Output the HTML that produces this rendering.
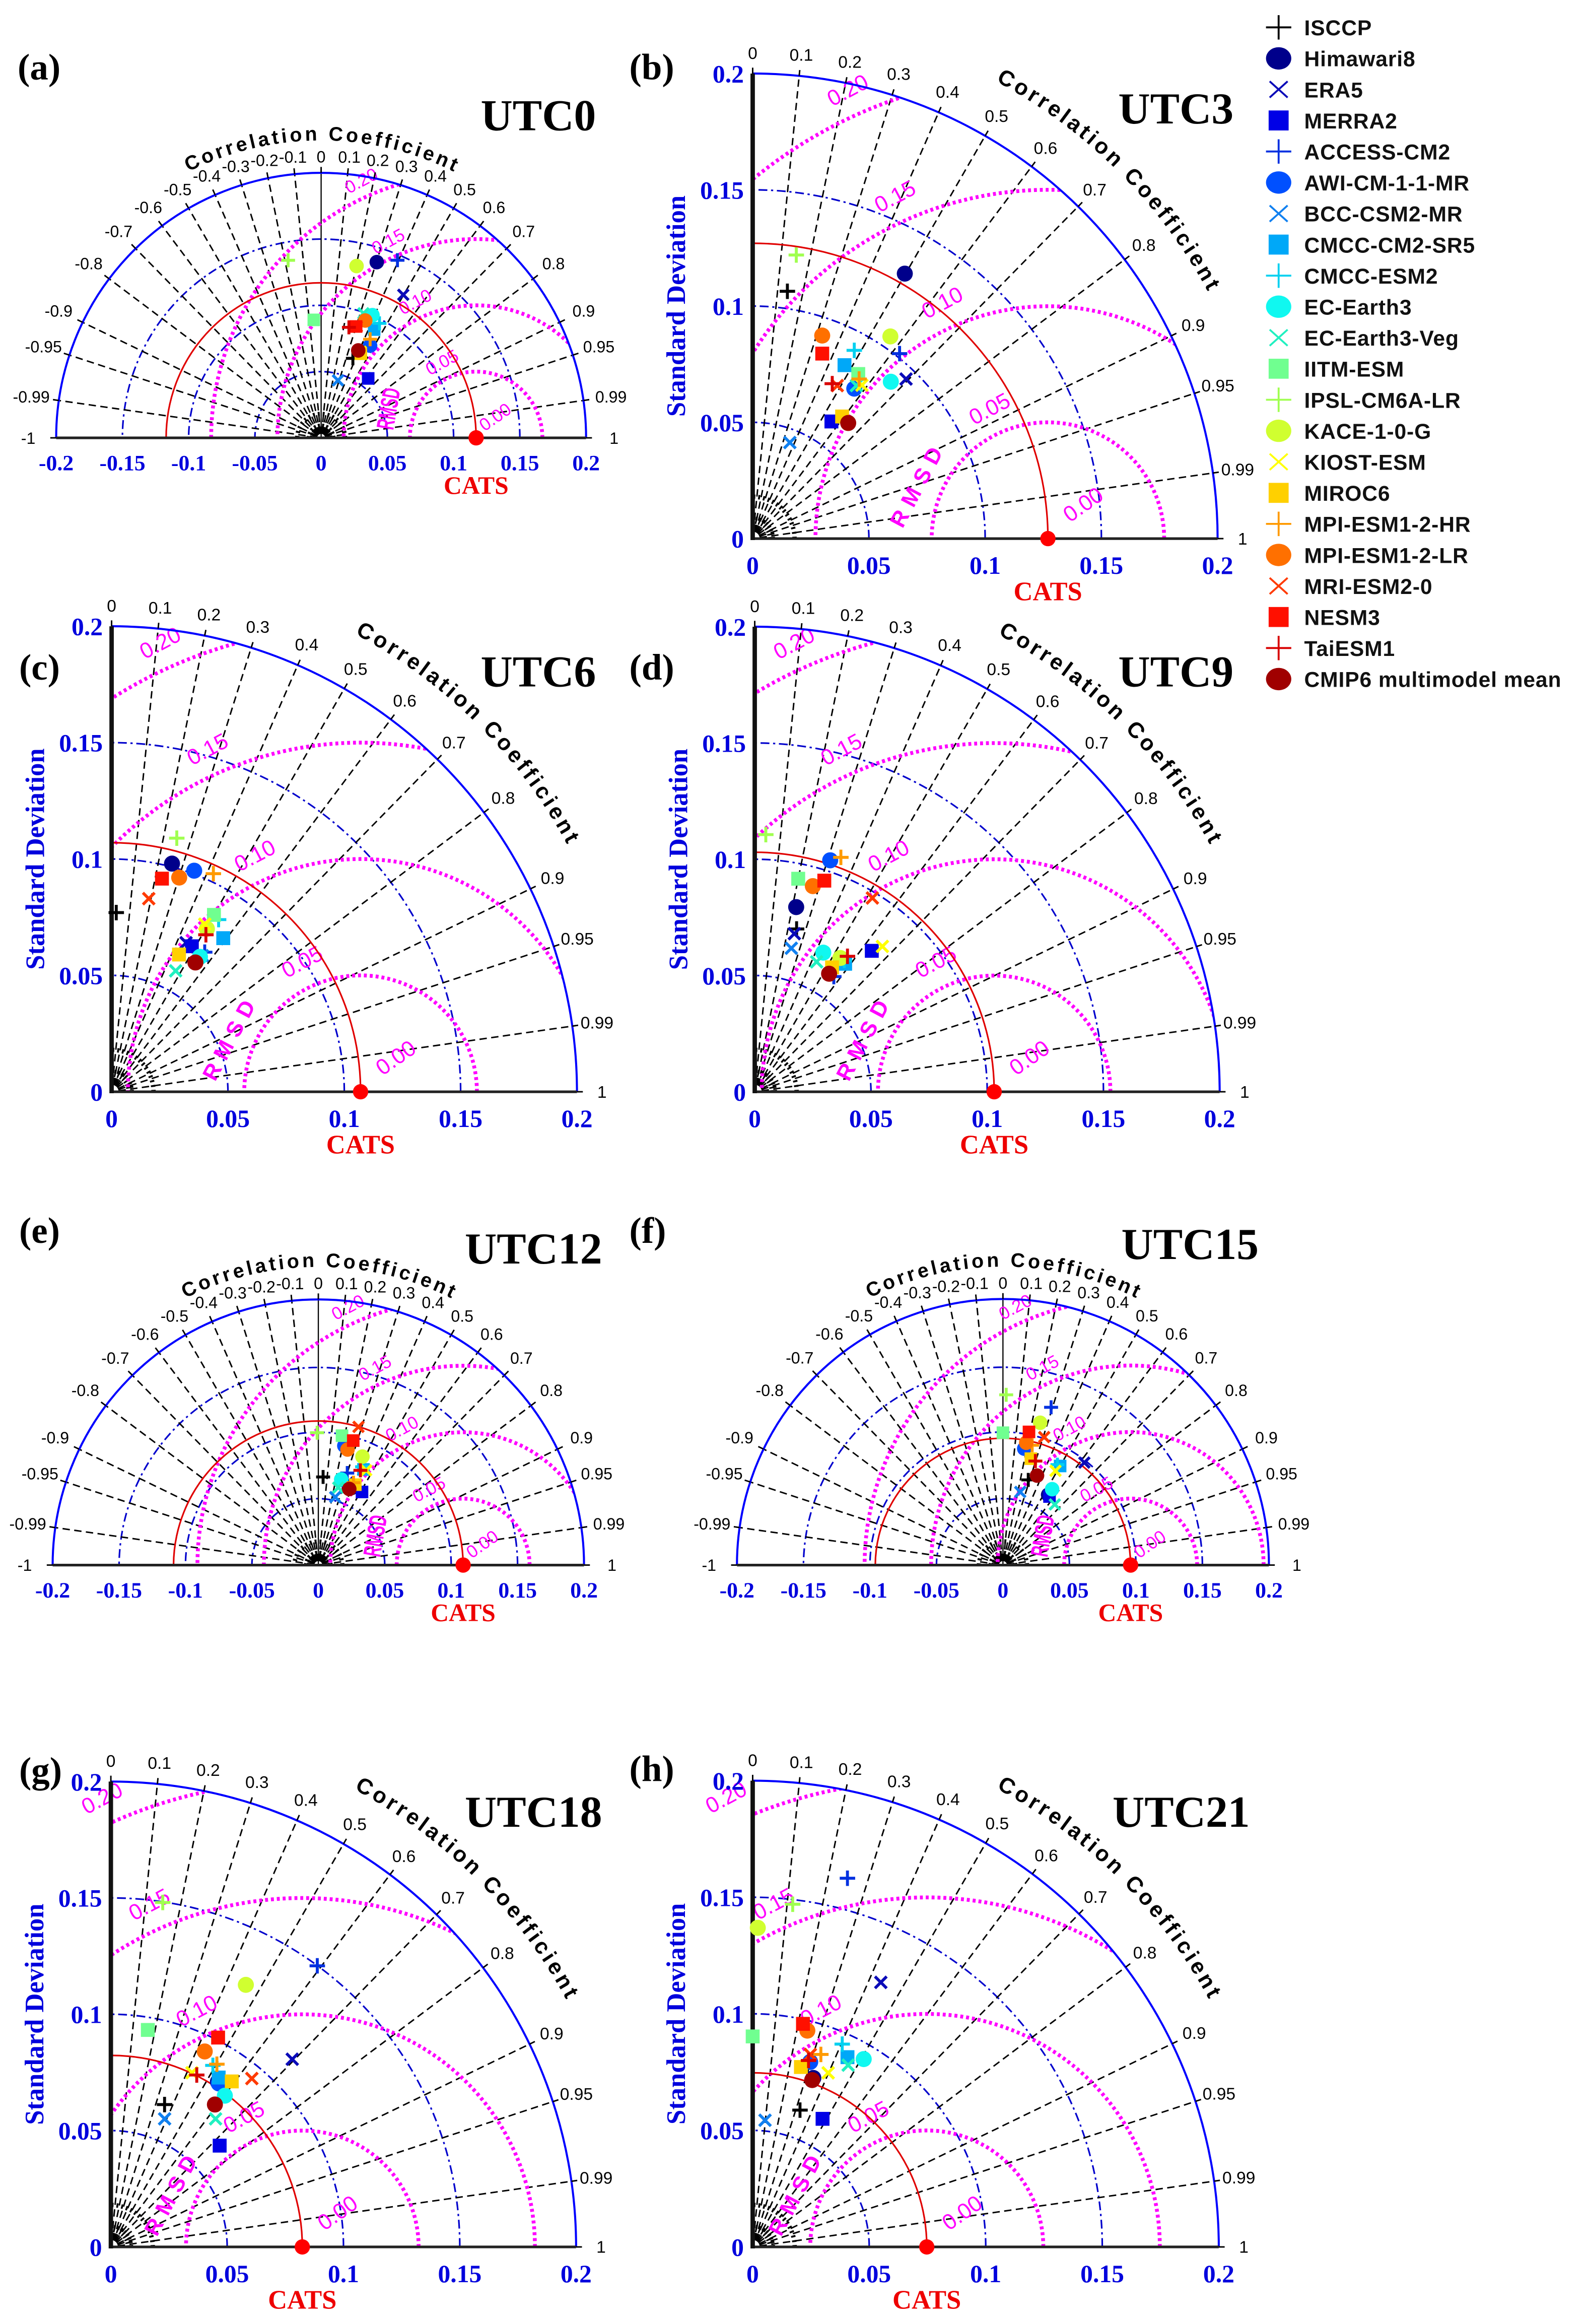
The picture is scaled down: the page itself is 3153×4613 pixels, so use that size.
<!DOCTYPE html>
<html>
<head>
<meta charset="utf-8">
<style>
  html,body{margin:0;padding:0;background:#fff;width:3153px;height:4613px;overflow:hidden;}
  svg{display:block;}
  .serif{font-family:"Liberation Serif",serif;font-weight:bold;}
  .sans{font-family:"Liberation Sans",sans-serif;}
</style>
</head>
<body>
<svg id="fig" xmlns="http://www.w3.org/2000/svg" width="3153" height="4613" viewBox="0 0 1080 1580.1" preserveAspectRatio="none">
  <rect x="0" y="0" width="1080" height="1580.1" fill="#ffffff"/>
</svg>
<script>
// ---------------- DATA ----------------
const modelNames = ['ISCCP','Himawari8','ERA5','MERRA2','ACCESS-CM2','AWI-CM-1-1-MR','BCC-CSM2-MR','CMCC-CM2-SR5','CMCC-ESM2','EC-Earth3','EC-Earth3-Veg','IITM-ESM','IPSL-CM6A-LR','KACE-1-0-G','KIOST-ESM','MIROC6','MPI-ESM1-2-HR','MPI-ESM1-2-LR','MRI-ESM2-0','NESM3','TaiESM1','CMIP6 multimodel mean'];
const modelShapes = ['plus','circle','x','square','plus','circle','x','square','plus','circle','x','square','plus','circle','x','square','plus','circle','x','square','plus','circle'];
const modelColors = ['#000000','#00008b','#0a0ab8','#0000e6','#0030e0','#0050ff','#1080f0','#00a8f8','#00d0f0','#10f8f0','#20f0c0','#70ff90','#a0ff50','#d0ff30','#ffff00','#ffd000','#ff9a00','#ff7000','#ff3a00','#ff1000','#d80000','#a00000'];

const panelTitles = ['UTC0','UTC3','UTC6','UTC9','UTC12','UTC15','UTC18','UTC21'];
const catsStd = [0.117, 0.127, 0.107, 0.103, 0.109, 0.096, 0.0823, 0.0747];

const stdA  = [0.0646,0.1391,0.1245,0.0572,0.1459,0.0788,0.0452,0.0910,0.0970,0.1004,0.0993,0.0892,0.1363,0.1324,0.0716,0.0702,0.0831,0.0946,0.0882,0.0881,0.0860,0.0717];
const corrA = [0.371,0.302,0.498,0.621,0.395,0.469,0.281,0.440,0.454,0.386,0.322,-0.062,-0.183,0.202,0.419,0.427,0.445,0.352,0.306,0.300,0.244,0.391];

const stdB  = [0.1074,0.1314,0.0952,0.0607,0.1016,0.0779,0.0443,0.0844,0.0920,0.0899,0.0795,0.0841,0.1234,0.1052,0.0810,0.0651,0.0825,0.0923,0.0752,0.0850,0.0749,0.0645];
const corrB = [0.139,0.498,0.693,0.558,0.622,0.561,0.361,0.468,0.475,0.661,0.561,0.540,0.152,0.563,0.580,0.591,0.555,0.324,0.484,0.352,0.457,0.637];

const stdC  = [0.0770,0.1014,0.0716,0.0714,0.0721,0.1014,0.0703,0.0816,0.0871,0.0693,0.0588,0.0878,0.1125,0.0811,0.0824,0.0657,0.1034,0.0965,0.0845,0.0941,0.0787,0.0662];
const corrC = [0.026,0.256,0.447,0.483,0.555,0.350,0.555,0.588,0.528,0.548,0.468,0.501,0.249,0.505,0.486,0.441,0.423,0.301,0.189,0.230,0.515,0.544];

const stdD  = [0.0723,0.0814,0.0701,0.0788,0.0601,0.1047,0.0637,0.0674,0.0684,0.0667,0.0619,0.0935,0.1107,0.0683,0.0832,0.0630,0.1074,0.0919,0.0975,0.0956,0.0706,0.0600];
const corrD = [0.249,0.219,0.243,0.639,0.566,0.310,0.247,0.577,0.563,0.442,0.430,0.200,0.043,0.539,0.660,0.528,0.345,0.272,0.519,0.313,0.565,0.533];

const stdE  = [0.0664,0.0632,0.0658,0.0641,0.0726,0.0919,0.0527,0.0796,0.0810,0.0667,0.0602,0.0990,0.0996,0.0881,0.0799,0.0666,0.0674,0.0897,0.1083,0.0973,0.0780,0.0618];
const corrE = [0.054,0.396,0.334,0.513,0.300,0.213,0.241,0.427,0.407,0.258,0.249,0.180,-0.009,0.377,0.451,0.418,0.393,0.245,0.279,0.270,0.406,0.377];

const stdF  = [0.0668,0.0628,0.0984,0.0623,0.1240,0.0890,0.0565,0.0860,0.0859,0.0680,0.0600,0.0995,0.1280,0.1106,0.0811,0.0827,0.0927,0.0936,0.1011,0.1020,0.0819,0.0720];
const corrF = [0.285,0.541,0.622,0.562,0.292,0.180,0.230,0.500,0.477,0.544,0.650,0.000,0.019,0.253,0.487,0.254,0.237,0.187,0.307,0.192,0.298,0.356];

const stdG  = [0.0654,0.0846,0.1122,0.0639,0.1499,0.0842,0.0597,0.0863,0.0895,0.0814,0.0711,0.0946,0.1497,0.1267,0.0826,0.0881,0.0908,0.0932,0.0944,0.1011,0.0826,0.0758];
const corrG = [0.353,0.544,0.695,0.732,0.592,0.551,0.387,0.537,0.490,0.602,0.633,0.168,0.149,0.458,0.422,0.590,0.502,0.433,0.642,0.456,0.447,0.590];

const stdH  = [0.0621,0.0770,0.1261,0.0626,0.1633,0.0831,0.0546,0.0910,0.0951,0.0936,0.0881,0.0903,0.1480,0.1369,0.0814,0.0799,0.0876,0.0957,0.0862,0.0981,0.0835,0.0760];
const corrH = [0.327,0.338,0.436,0.479,0.249,0.297,0.097,0.447,0.404,0.509,0.465,0.000,0.116,0.016,0.398,0.259,0.334,0.245,0.287,0.220,0.287,0.336];

const panelStd  = [stdA, stdB, stdC, stdD, stdE, stdF, stdG, stdH];
const panelCorr = [corrA, corrB, corrC, corrD, corrE, corrF, corrG, corrH];

const stdTicks = [0, 0.05, 0.1, 0.15, 0.2];
const stdTickLabels = ['0','0.05','0.1','0.15','0.2'];
const halfTicks = [-0.2,-0.15,-0.1,-0.05,0,0.05,0.1,0.15,0.2];
const halfTickLabels = ['-0.2','-0.15','-0.1','-0.05','0','0.05','0.1','0.15','0.2'];
const corrLinesQuarter = [0.1,0.2,0.3,0.4,0.5,0.6,0.7,0.8,0.9,0.95,0.99];
const corrLabelsQuarter = ['0','0.1','0.2','0.3','0.4','0.5','0.6','0.7','0.8','0.9','0.95','0.99','1'];
const corrLabelValsQuarter = [0,0.1,0.2,0.3,0.4,0.5,0.6,0.7,0.8,0.9,0.95,0.99,1];
const corrLinesHalf = [-0.99,-0.95,-0.9,-0.8,-0.7,-0.6,-0.5,-0.4,-0.3,-0.2,-0.1,0.1,0.2,0.3,0.4,0.5,0.6,0.7,0.8,0.9,0.95,0.99];
const corrLabelValsHalf = [-1,-0.99,-0.95,-0.9,-0.8,-0.7,-0.6,-0.5,-0.4,-0.3,-0.2,-0.1,0,0.1,0.2,0.3,0.4,0.5,0.6,0.7,0.8,0.9,0.95,0.99,1];
const corrLabelsHalf = ['-1','-0.99','-0.95','-0.9','-0.8','-0.7','-0.6','-0.5','-0.4','-0.3','-0.2','-0.1','0','0.1','0.2','0.3','0.4','0.5','0.6','0.7','0.8','0.9','0.95','0.99','1'];
const stdRings = [0.05, 0.10, 0.15];
const rmsdRadii = [0.05, 0.10, 0.15, 0.20];
const rmsdLabels = ['0.05','0.10','0.15','0.20'];

// ---------------- LAYOUT ----------------
const layout = [
  {kind:'half',   ox:218.4, oy:297.7,  R:180.2, lx:12,  ly:54,   tx:405.3, ty:88.5, letter:'(a)'},
  {kind:'quarter',ox:511.9, oy:366.2,  R:316.2, lx:428, ly:54,   tx:838.9, ty:84,   letter:'(b)'},
  {kind:'quarter',ox:75.9,  oy:742.3,  R:316.5, lx:13,  ly:462,  tx:405.3, ty:466.7,letter:'(c)'},
  {kind:'quarter',ox:513.3, oy:742.3,  R:316.2, lx:428, ly:462,  tx:838.9, ty:466.7,letter:'(d)'},
  {kind:'half',   ox:216.5, oy:1064.1, R:180.7, lx:13,  ly:845,  tx:409.5, ty:859,  letter:'(e)'},
  {kind:'half',   ox:682.1, oy:1064.1, R:180.9, lx:428, ly:845,  tx:856,   ty:856,  letter:'(f)'},
  {kind:'quarter',ox:75.4,  oy:1527.7, R:316.4, lx:13,  ly:1212, tx:409.5, ty:1242, letter:'(g)'},
  {kind:'quarter',ox:511.9, oy:1527.7, R:317.0, lx:428, ly:1211, tx:850,   ty:1242, letter:'(h)'}
];

const NS = 'http://www.w3.org/2000/svg';
const svg = document.getElementById('fig');
function mk(tag, attrs, parent){
  const e = document.createElementNS(NS, tag);
  for (const k in attrs) e.setAttribute(k, attrs[k]);
  parent.appendChild(e);
  return e;
}
function arcPath(cx, cy, r, a0, a1){
  const r0 = a0*Math.PI/180, r1 = a1*Math.PI/180;
  const x0 = cx + r*Math.cos(r0), y0 = cy - r*Math.sin(r0);
  const x1 = cx + r*Math.cos(r1), y1 = cy - r*Math.sin(r1);
  const large = Math.abs(a1-a0) > 180 ? 1 : 0;
  const sweep = a1 > a0 ? 0 : 1;
  return `M${x0.toFixed(2)},${y0.toFixed(2)} A${r},${r} 0 ${large} ${sweep} ${x1.toFixed(2)},${y1.toFixed(2)}`;
}

function drawMarker(parent, shape, color, x, y, sz){
  let m;
  if (shape === 'circle'){
    m = mk('circle', {cx:x, cy:y, r:sz*0.52, fill:color}, parent);
  } else if (shape === 'square'){
    m = mk('rect', {x:x-sz*0.45, y:y-sz*0.45, width:sz*0.9, height:sz*0.9, fill:color}, parent);
  } else if (shape === 'plus'){
    const h = sz*0.5;
    m = mk('path', {d:`M${x-h},${y} H${x+h} M${x},${y-h} V${y+h}`, stroke:color, 'stroke-width':2, fill:'none'}, parent);
  } else {
    const h = sz*0.38;
    m = mk('path', {d:`M${x-h},${y-h} L${x+h},${y+h} M${x-h},${y+h} L${x+h},${y-h}`, stroke:color, 'stroke-width':2, fill:'none'}, parent);
  }
  return m;
}

layout.forEach((L, p) => {
  const g = mk('g', {}, svg);
  
  
  const s = L.R / 0.2;
  const maxA = L.kind === 'half' ? 180 : 90;
  const ox = L.ox, oy = L.oy, R = L.R;
  const px = (std, corr) => ox + s*std*corr;
  const py = (std, corr) => oy - s*std*Math.sin(Math.acos(Math.max(-1, Math.min(1, corr))));
  const cats = catsStd[p];

  const defs = mk('defs', {}, g);
  const cp = mk('clipPath', {id:'clip'+p}, defs);
  let sectorD;
  if (L.kind === 'half') sectorD = `M${ox-R},${oy} A${R},${R} 0 0 1 ${ox+R},${oy} Z`;
  else sectorD = `M${ox},${oy} L${ox+R},${oy} A${R},${R} 0 0 0 ${ox},${oy-R} Z`;
  mk('path', {d:sectorD}, cp);

  stdRings.forEach(r => {
    const ring = mk('path', {d:arcPath(ox, oy, r*s, 0, maxA), fill:'none', stroke:'#0000cc', 'stroke-width':1.1, 'stroke-dasharray':'6 2.5 1.5 2.5'}, g);
    
    
  });

  const lines = L.kind === 'half' ? corrLinesHalf : corrLinesQuarter;
  lines.forEach(c => {
    const th = Math.acos(c);
    const r0 = 0.003*s;
    const ln = mk('line', {x1:ox + r0*Math.cos(th), y1:oy - r0*Math.sin(th), x2:ox + R*Math.cos(th), y2:oy - R*Math.sin(th), stroke:'#000', 'stroke-width':1, 'stroke-dasharray':'5 3'}, g);
    
    
  });
  if (L.kind === 'half'){
    const zl = mk('line', {x1:ox, y1:oy, x2:ox, y2:oy-R, stroke:'#000', 'stroke-width':0.8}, g);
    
    
  }
  const hatch = mk('path', {d:arcPath(ox, oy, 0.008*s, 0, maxA), fill:'none', stroke:'#000', 'stroke-width':5, 'stroke-dasharray':'1.2 1.2'}, g);
  
  
  const hatch2 = mk('path', {d:arcPath(ox, oy, 0.018*s, 0, maxA), fill:'none', stroke:'#000', 'stroke-width':3, 'stroke-dasharray':'1.3 2'}, g);
  
  

  const rg = mk('g', {'clip-path':'url(#clip'+p+')'}, g);
  rmsdRadii.forEach(r => {
    const c = mk('path', {d:arcPath(ox + cats*s, oy, r*s, 0, 180), fill:'none', stroke:'#ff00ff', 'stroke-width':2.6, 'stroke-dasharray':'2 2'}, rg);
    
    
  });
  const fsR = L.kind === 'half' ? 12 : 15;
  rmsdRadii.forEach((r, i) => {
    const a = 114*Math.PI/180;
    const rr = r + 0.008;
    const lx = ox + (cats + rr*Math.cos(a))*s, ly = oy - rr*Math.sin(a)*s;
    const t = mk('text', {x:lx, y:ly, 'font-size':fsR, fill:'#ff00ff', 'text-anchor':'middle', transform:`rotate(-28 ${lx} ${ly})`, class:'sans'}, g);
    t.textContent = rmsdLabels[i];
    
    
  });
  {
    const lx = ox + (cats + 0.017)*s, ly = oy - 0.012*s;
    const t = mk('text', {x:lx, y:ly, 'font-size':fsR, fill:'#ff00ff', 'text-anchor':'middle', transform:`rotate(-35 ${lx} ${ly})`, class:'sans'}, g);
    t.textContent = '0.00';
    
    
  }
  if (L.kind === 'quarter'){
    const lx = ox + (cats - 0.053)*s, ly = oy - 0.022*s;
    const t = mk('text', {x:lx, y:ly, 'font-size':15, 'font-weight':'bold', fill:'#ff00ff', 'text-anchor':'middle', 'letter-spacing':5, transform:`rotate(-62 ${lx} ${ly})`, class:'sans'}, g);
    t.textContent = 'RMSD';
    
    
  } else {
    const lx = ox + (cats - 0.066)*s, ly = oy - 0.022*s;
    const t = mk('text', {x:0, y:4, 'font-size':12, 'font-weight':'bold', fill:'#ff00ff', 'text-anchor':'middle', class:'sans'}, g);
    t.setAttribute('transform', `translate(${lx} ${ly}) rotate(-80) scale(0.8 1.4)`);
    t.textContent = 'RMSD';
    
    
  }

  const ca = mk('path', {d:arcPath(ox, oy, cats*s, 0, maxA), fill:'none', stroke:'#e00000', 'stroke-width':1.1}, g);
  
  

  const oa = mk('path', {d:arcPath(ox, oy, R, 0, maxA), fill:'none', stroke:'#0000ff', 'stroke-width':1.4}, g);
  
  

  if (L.kind === 'half'){
    const ax = mk('line', {x1:ox-R, y1:oy, x2:ox+R, y2:oy, stroke:'#222', 'stroke-width':1.8}, g);
    
    
  } else {
    const ax = mk('line', {x1:ox, y1:oy, x2:ox+R, y2:oy, stroke:'#222', 'stroke-width':1.8}, g);
    
    
    const ay = mk('line', {x1:ox, y1:oy+1, x2:ox, y2:oy-R, stroke:'#111', 'stroke-width':3}, g);
    
    
  }

  const cvals = L.kind === 'half' ? corrLabelValsHalf : corrLabelValsQuarter;
  const clabs = L.kind === 'half' ? corrLabelsHalf : corrLabelsQuarter;
  cvals.forEach((c, i) => {
    const th = Math.acos(c);
    const tk = mk('line', {x1:ox + R*Math.cos(th), y1:oy - R*Math.sin(th), x2:ox + (R+4)*Math.cos(th), y2:oy - (R+4)*Math.sin(th), stroke:'#000', 'stroke-width':1}, g);
    
    
    const rl = L.kind === 'half' ? R + 11 + 8*Math.abs(Math.cos(th)) : R + 14 + 3*Math.abs(Math.cos(th));
    const lx = ox + rl*Math.cos(th), ly = oy - rl*Math.sin(th) + 4;
    const t = mk('text', {x:lx, y:ly, 'font-size':L.kind==='half'?11:11.5, fill:'#000', 'text-anchor':'middle', class:'sans'}, g);
    t.textContent = clabs[i];
    
    
  });

  {
    let r, a0, a1, fs;
    if (L.kind === 'half'){ r = R + 22; a0 = 116.5; a1 = 63.5; fs = 13.5; }
    else { r = R + 36; a0 = 62; a1 = 28.5; fs = 15; }
    const pid = 'cc' + p;
    mk('path', {id:pid, d:arcPath(ox, oy, r, a0, a1), fill:'none'}, defs);
    const len = r * (a0 - a1) * Math.PI / 180;
    const t = mk('text', {'font-size':fs, 'font-weight':'bold', fill:'#000', class:'sans'}, g);
    
    
    const tp = mk('textPath', {href:'#'+pid, textLength:len.toFixed(1), lengthAdjust:'spacing'}, t);
    tp.textContent = 'Correlation Coefficient';
  }

  if (L.kind === 'half'){
    halfTicks.forEach((v, i) => {
      const t = mk('text', {x:ox + v*s, y:oy + 22, 'font-size':15, fill:'#0000dd', 'text-anchor':'middle', class:'serif'}, g);
      t.textContent = halfTickLabels[i];
      
      
    });
    const ct = mk('text', {x:ox + cats*s, y:oy + 38, 'font-size':17, fill:'#ee0000', 'text-anchor':'middle', class:'serif'}, g);
    ct.textContent = 'CATS';
    
    
  } else {
    stdTicks.forEach((v, i) => {
      const t = mk('text', {x:ox + v*s, y:oy + 24, 'font-size':17, fill:'#0000dd', 'text-anchor':'middle', class:'serif'}, g);
      t.textContent = stdTickLabels[i];
      
      
      const ty = mk('text', {x:ox - 6, y:oy - v*s + 6, 'font-size':17, fill:'#0000dd', 'text-anchor':'end', class:'serif'}, g);
      ty.textContent = stdTickLabels[i];
      
      
    });
    const ct = mk('text', {x:ox + cats*s, y:oy + 42, 'font-size':18, fill:'#ee0000', 'text-anchor':'middle', class:'serif'}, g);
    ct.textContent = 'CATS';
    
    
    const yl = ox - 46, ym = oy - R/2;
    const yt = mk('text', {x:yl, y:ym, 'font-size':18, fill:'#0000dd', 'text-anchor':'middle', transform:`rotate(-90 ${yl} ${ym})`, class:'serif'}, g);
    yt.textContent = 'Standard Deviation';
    
    
  }

  const cd = mk('circle', {cx:ox + cats*s, cy:oy, r:5.2, fill:'#ff0000'}, g);
  
  

  const stds = panelStd[p], corrs = panelCorr[p];
  const msz = L.kind === 'half' ? 9.5 : 10.5;
  stds.forEach((sd, i) => {
    const m = drawMarker(g, modelShapes[i], modelColors[i], px(sd, corrs[i]), py(sd, corrs[i]), msz);
    
    
  });

  const lt = mk('text', {x:L.lx, y:L.ly, 'font-size':25, fill:'#000', class:'serif'}, g);
  lt.textContent = L.letter;
  
  
  const tt = mk('text', {x:L.tx, y:L.ty, 'font-size':30, fill:'#000', 'text-anchor':'end', class:'serif'}, g);
  tt.textContent = panelTitles[p];
  
  
});

// ---------------- LEGEND ----------------
const lg = mk('g', {}, svg);


modelNames.forEach((n, i) => {
  const y = 18.6 + i*21.1;
  const eg = mk('g', {}, lg);
  
  
  const shape = modelShapes[i];
  let m;
  if (shape === 'circle') m = mk('ellipse', {cx:869.6, cy:y, rx:8.6, ry:7.6, fill:modelColors[i]}, eg);
  else if (shape === 'square') m = mk('rect', {x:862.8, y:y-6.8, width:13.6, height:13.6, fill:modelColors[i]}, eg);
  else if (shape === 'plus') m = mk('path', {d:`M861,${y} H878.2 M869.6,${y-8.3} V${y+8.3}`, stroke:modelColors[i], 'stroke-width':1.3, fill:'none'}, eg);
  else m = mk('path', {d:`M863.5,${y-5.5} L875.7,${y+5.5} M863.5,${y+5.5} L875.7,${y-5.5}`, stroke:modelColors[i], 'stroke-width':1.3, fill:'none'}, eg);
  
  
  const t = mk('text', {x:887, y:y+5.4, 'font-size':14.6, 'font-weight':'bold', fill:'#111', 'letter-spacing':0.3, class:'sans'}, eg);
  t.textContent = n;
  
  
});
</script>
</body>
</html>
